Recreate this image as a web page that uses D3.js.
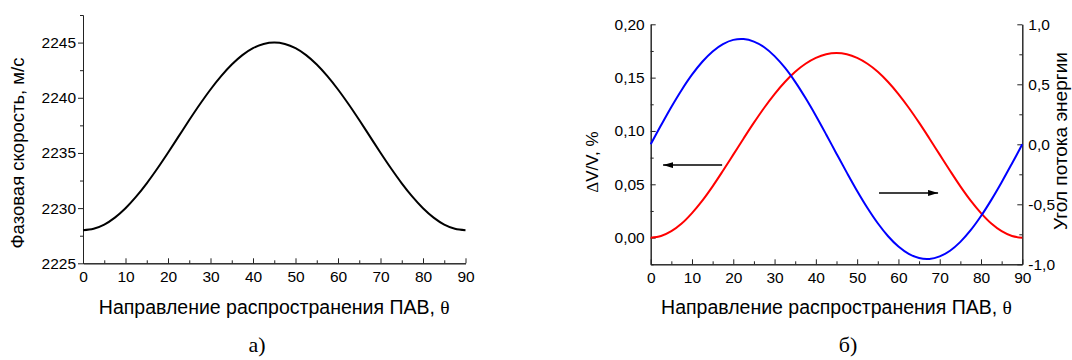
<!DOCTYPE html>
<html>
<head>
<meta charset="utf-8">
<script src="https://cdn.jsdelivr.net/npm/d3@7"></script>
<style>
  body { margin: 0; background: #fff; }
  svg text { font-family: "Liberation Sans", Arial, sans-serif; fill: #000; }
  svg .serif { font-family: "Liberation Serif", "Times New Roman", serif; }
  .axis path, .axis line { stroke: #222; stroke-width: 1; }
</style>
</head>
<body>
<svg id="chart" width="1072" height="360"></svg>
<script>
// Propagation direction of the surface wave, degrees
const angles = [0, 2.5, 5, 7.5, 10, 12.5, 15, 17.5, 20, 22.5, 25, 27.5, 30, 32.5, 35, 37.5, 40, 42.5, 45,
                47.5, 50, 52.5, 55, 57.5, 60, 62.5, 65, 67.5, 70, 72.5, 75, 77.5, 80, 82.5, 85, 87.5, 90];
// (a) phase velocity, m/s
const phaseVelocity = [2228.00, 2228.13, 2228.51, 2229.14, 2229.99, 2231.04, 2232.25, 2233.59, 2235.02, 2236.50,
                       2237.98, 2239.41, 2240.75, 2241.96, 2243.01, 2243.86, 2244.49, 2244.87, 2245.00,
                       2244.87, 2244.49, 2243.86, 2243.01, 2241.96, 2240.75, 2239.41, 2237.98, 2236.50,
                       2235.02, 2233.59, 2232.25, 2231.04, 2229.99, 2229.14, 2228.51, 2228.13, 2228.00];
// (b) relative velocity change dV/V, %
const deltaV = [0.0000, 0.0015, 0.0060, 0.0132, 0.0230, 0.0347, 0.0481, 0.0627, 0.0778, 0.0930,
                0.1078, 0.1218, 0.1346, 0.1459, 0.1555, 0.1630, 0.1685, 0.1719, 0.1730,
                0.1719, 0.1685, 0.1630, 0.1555, 0.1459, 0.1346, 0.1218, 0.1078, 0.0930,
                0.0778, 0.0627, 0.0481, 0.0347, 0.0230, 0.0132, 0.0060, 0.0015, 0.0000];
// (b) energy flow angle, degrees
const flowAngle = [0.000, 0.158, 0.311, 0.453, 0.580, 0.688, 0.774, 0.835, 0.870, 0.877,
                   0.856, 0.809, 0.735, 0.638, 0.520, 0.385, 0.238, 0.082, -0.078,
                   -0.236, -0.389, -0.531, -0.658, -0.766, -0.852, -0.913, -0.948, -0.955,
                   -0.934, -0.887, -0.813, -0.716, -0.598, -0.463, -0.316, -0.160, 0.000];

const angleTicks = [0, 10, 20, 30, 40, 50, 60, 70, 80, 90];
const angleMinor = [5, 15, 25, 35, 45, 55, 65, 75, 85];
const velocityTicks = [2225, 2230, 2235, 2240, 2245];
const velocityMinor = [2227.5, 2232.5, 2237.5, 2242.5, 2247.5];
const deltaTicks = [0.00, 0.05, 0.10, 0.15, 0.20];
const deltaMinor = [-0.025, 0.025, 0.075, 0.125, 0.175];
const flowTicks = [-1.0, -0.5, 0.0, 0.5, 1.0];
const flowMinor = [-0.75, -0.25, 0.25, 0.75];

const svg = d3.select("#chart");
const comma = digits => v => d3.format("." + digits + "f")(v).replace(".", ",").replace("−", "-");

function addAxis(g, axis) {
  return g.append("g").attr("class", "axis").call(axis)
    .call(s => s.selectAll("text").style("font-size", "15.5px"));
}

// ---------- (a) phase velocity ----------
{
  const x = d3.scaleLinear().domain([0, 90]).range([83, 465.5]);
  const y = d3.scaleLinear().domain([2225, 2247.5]).range([263.3, 15]);
  const g = svg.append("g");

  addAxis(g.append("g").attr("transform", `translate(0,${y(2225)})`),
    d3.axisBottom(x).tickValues(angleTicks).tickSizeInner(-5).tickSizeOuter(0).tickPadding(8));
  addAxis(g.append("g").attr("transform", `translate(0,${y(2225)})`),
    d3.axisBottom(x).tickValues(angleMinor).tickSizeInner(-3).tickSizeOuter(0).tickFormat(""));
  addAxis(g.append("g").attr("transform", `translate(${x(0)},0)`),
    d3.axisLeft(y).tickValues(velocityTicks).tickSizeInner(5).tickSizeOuter(0).tickPadding(2)
      .tickFormat(d3.format("d")));
  addAxis(g.append("g").attr("transform", `translate(${x(0)},0)`),
    d3.axisLeft(y).tickValues(velocityMinor).tickSizeInner(3).tickSizeOuter(0).tickFormat(""));

  const line = d3.line().x((d, i) => x(angles[i])).y(d => y(d)).curve(d3.curveCatmullRom);
  g.append("path").datum(phaseVelocity).attr("d", line)
    .attr("fill", "none").attr("stroke", "#000").attr("stroke-width", 2);

  g.append("text").attr("transform", "translate(24,153) rotate(-90)")
    .attr("text-anchor", "middle").style("font-size", "18.5px")
    .text("Фазовая скорость, м/с");

  const t = g.append("text").attr("x", x(45)).attr("y", 314).attr("text-anchor", "middle")
    .style("font-size", "19.5px");
  t.append("tspan").text("Направление распространения ПАВ, ");
  t.append("tspan").attr("class", "serif").text("θ");

  g.append("text").attr("class", "serif").attr("x", 257).attr("y", 352)
    .attr("text-anchor", "middle").style("font-size", "22px").text("а)");
}

// ---------- (b) dV/V and energy flow angle ----------
{
  const x = d3.scaleLinear().domain([0, 90]).range([650.7, 1022.3]);
  const yL = d3.scaleLinear().domain([-0.025, 0.20]).range([264.3, 24.3]);
  const yR = d3.scaleLinear().domain([-1, 1]).range([264.3, 24.3]);
  const g = svg.append("g");

  addAxis(g.append("g").attr("transform", `translate(0,${yR(-1)})`),
    d3.axisBottom(x).tickValues(angleTicks).tickSizeInner(-5).tickSizeOuter(0).tickPadding(8));
  addAxis(g.append("g").attr("transform", `translate(0,${yR(-1)})`),
    d3.axisBottom(x).tickValues(angleMinor).tickSizeInner(-3).tickSizeOuter(0).tickFormat(""));
  addAxis(g.append("g").attr("transform", `translate(${x(0)},0)`),
    d3.axisLeft(yL).tickValues(deltaTicks).tickSizeInner(-5).tickSizeOuter(0).tickPadding(6)
      .tickFormat(comma(2)));
  addAxis(g.append("g").attr("transform", `translate(${x(0)},0)`),
    d3.axisLeft(yL).tickValues(deltaMinor).tickSizeInner(-3).tickSizeOuter(0).tickFormat(""));
  addAxis(g.append("g").attr("transform", `translate(${x(90)},0)`),
    d3.axisRight(yR).tickValues(flowTicks).tickSizeInner(-5).tickSizeOuter(0).tickPadding(6)
      .tickFormat(comma(1)));
  addAxis(g.append("g").attr("transform", `translate(${x(90)},0)`),
    d3.axisRight(yR).tickValues(flowMinor).tickSizeInner(-3).tickSizeOuter(0).tickFormat(""));

  const lineL = d3.line().x((d, i) => x(angles[i])).y(d => yL(d)).curve(d3.curveCatmullRom);
  const lineR = d3.line().x((d, i) => x(angles[i])).y(d => yR(d)).curve(d3.curveCatmullRom);
  g.append("path").datum(deltaV).attr("d", lineL)
    .attr("fill", "none").attr("stroke", "#ff0000").attr("stroke-width", 2);
  g.append("path").datum(flowAngle).attr("d", lineR)
    .attr("fill", "none").attr("stroke", "#0000ff").attr("stroke-width", 2);

  // arrows pointing each curve to its axis
  const defs = svg.append("defs");
  defs.append("marker").attr("id", "head").attr("viewBox", "0 0 10 6")
    .attr("refX", 10).attr("refY", 3).attr("markerWidth", 10).attr("markerHeight", 6)
    .attr("markerUnits", "userSpaceOnUse").attr("orient", "auto")
    .append("path").attr("d", "M0,0 L10,3 L0,6 Z").attr("fill", "#000");
  g.append("line").attr("x1", x(17.3)).attr("x2", x(3)).attr("y1", yL(0.068)).attr("y2", yL(0.068))
    .attr("stroke", "#000").attr("stroke-width", 1.5).attr("marker-end", "url(#head)");
  g.append("line").attr("x1", x(55.3)).attr("x2", x(69.6)).attr("y1", yR(-0.405)).attr("y2", yR(-0.405))
    .attr("stroke", "#000").attr("stroke-width", 1.5).attr("marker-end", "url(#head)");

  const tl = g.append("text").attr("transform", "translate(598,162) rotate(-90)")
    .attr("text-anchor", "middle").style("font-size", "17px");
  tl.append("tspan").attr("class", "serif").text("Δ");
  tl.append("tspan").text("V/V, %");

  g.append("text").attr("transform", "translate(1067,141) rotate(-90)")
    .attr("text-anchor", "middle").style("font-size", "19px")
    .text("Угол потока энергии");

  const t = g.append("text").attr("x", x(45)).attr("y", 314).attr("text-anchor", "middle")
    .style("font-size", "19.5px");
  t.append("tspan").text("Направление распространения ПАВ, ");
  t.append("tspan").attr("class", "serif").text("θ");

  g.append("text").attr("class", "serif").attr("x", 848).attr("y", 352)
    .attr("text-anchor", "middle").style("font-size", "22px").text("б)");
}
</script>
</body>
</html>
